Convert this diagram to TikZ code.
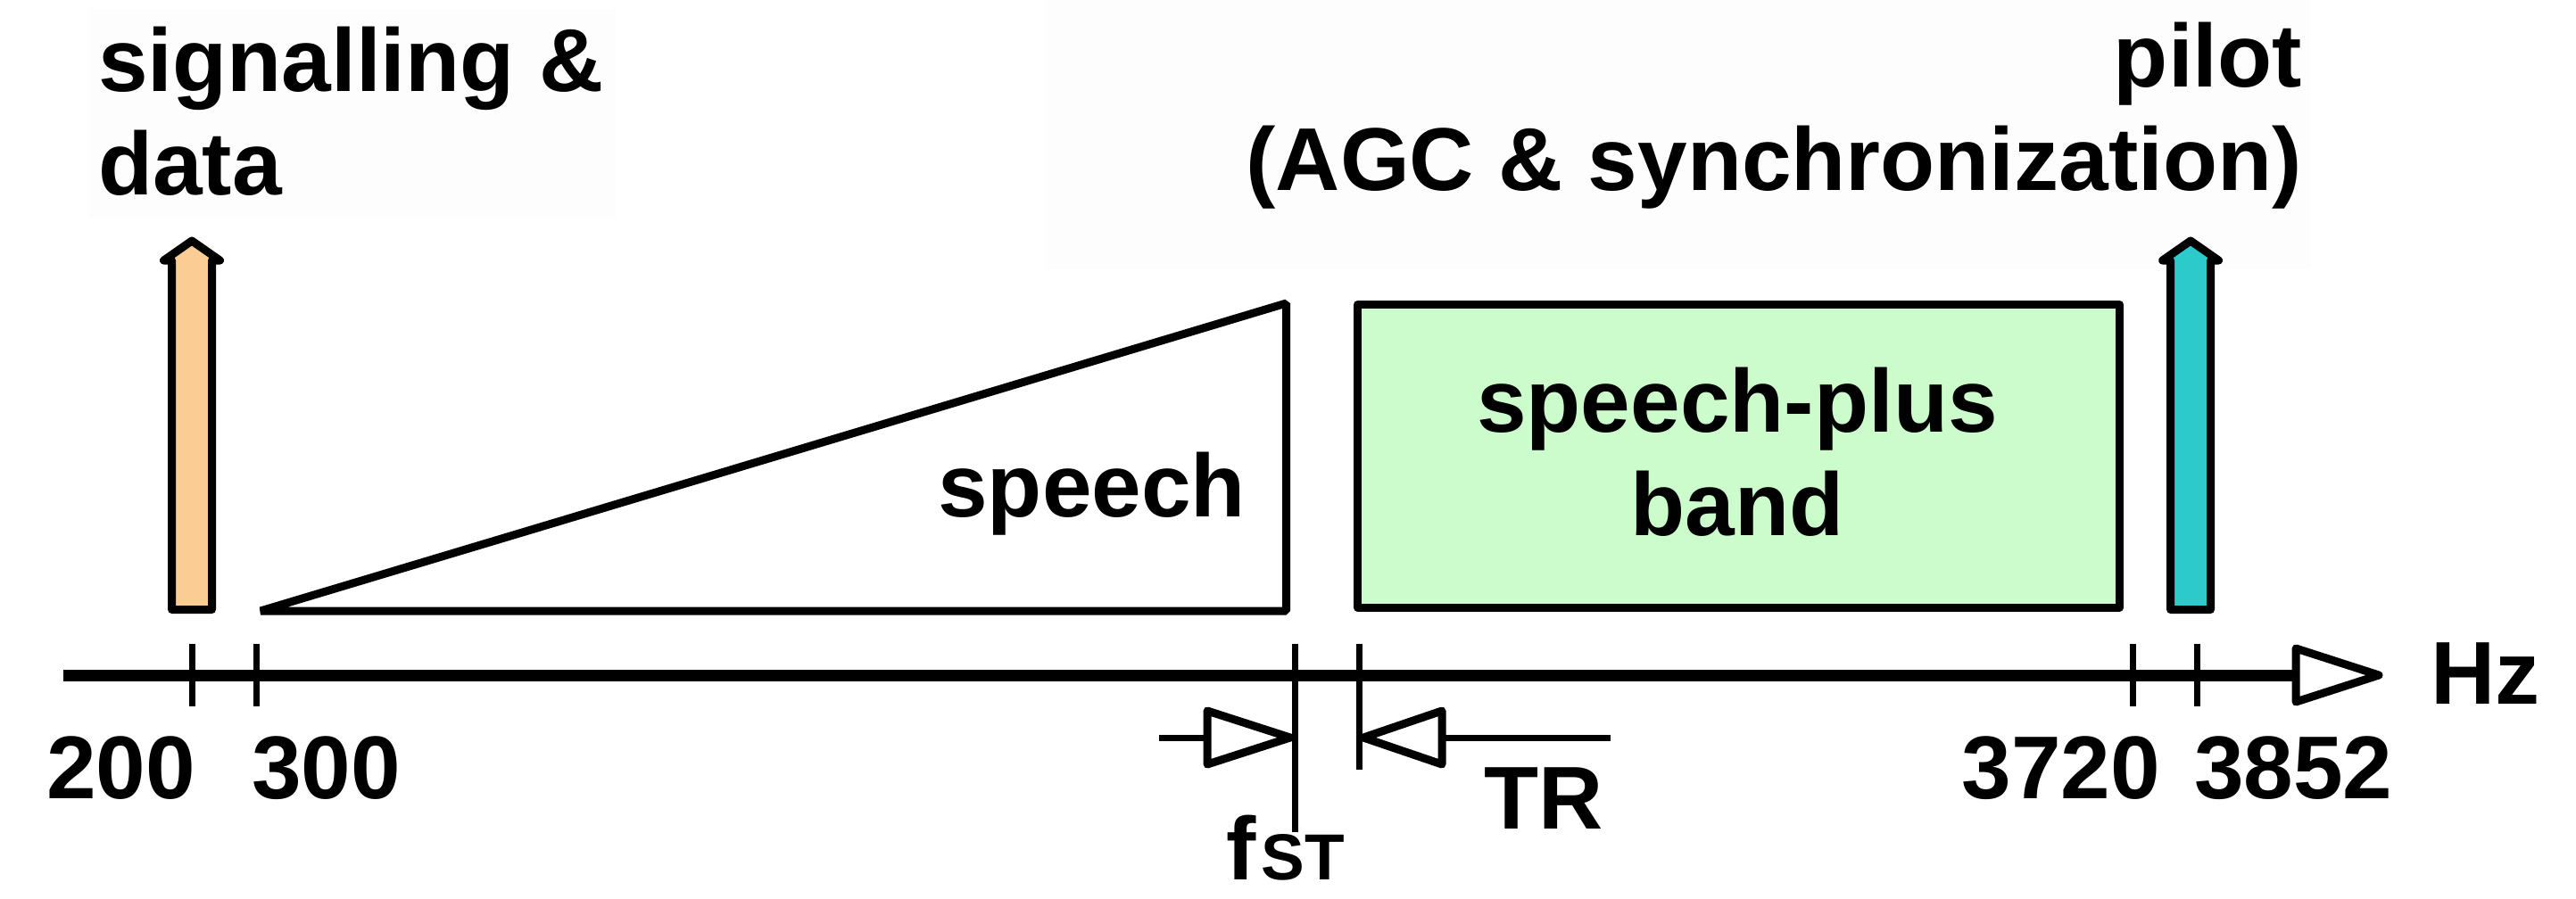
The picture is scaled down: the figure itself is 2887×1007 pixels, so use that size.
\documentclass[tikz,border=0pt]{standalone}
\usepackage{fontspec}
\setmainfont{Liberation Sans}
\usetikzlibrary{calc}
\definecolor{sigorange}{HTML}{FBCD94}
\definecolor{pilotteal}{HTML}{2CCACA}
\definecolor{bandgreen}{HTML}{CCFCCC}
\definecolor{faint}{HTML}{FDFDFD}
\begin{document}
\begin{tikzpicture}[x=0.25pt,y=-0.25pt,
  lbl/.style={font=\fontsize{25}{29}\selectfont\bfseries, inner sep=0pt, outer sep=0pt},
  blk/.style={line width=2.25pt, line join=round},
  thin/.style={line width=1.75pt},
  axisline/.style={line width=3.25pt},
  tipbox/.style={line width=2.25pt, line join=round, fill=white},
]
\useasboundingbox (0,0) rectangle (2887,1007);
% faint backgrounds behind the labels
\fill[faint] (100,10) rectangle (690,245);
\fill[faint] (1172,0) rectangle (2590,302);

% coordinates on the axis
\coordinate (axstart) at (71,757);
\coordinate (axend) at (2573,757);
\coordinate (t200) at (215,757);
\coordinate (t300) at (287,757);
\coordinate (tst) at (1451,757);
\coordinate (ttr) at (1523,757);
\coordinate (t3720) at (2390,757);
\coordinate (t3852) at (2462,757);

% axis and its open arrowhead
\draw[axisline] (axstart) -- (axend);
\draw[tipbox] ($(axend)+(0,-30)$) -- ($(axend)+(93,0)$) -- ($(axend)+(0,30)$) -- cycle;

% ticks
\foreach \t in {t200,t300,t3720,t3852}
  \draw[thin] ($(\t)+(0,-35)$) -- ($(\t)+(0,35)$);
\draw[thin] ($(tst)+(0,-35)$) -- ($(tst)+(0,176)$);
\draw[thin] ($(ttr)+(0,-35)$) -- ($(ttr)+(0,106)$);

% signalling arrow (orange)
\draw[blk, fill=sigorange] (192.5,683.5) -- (192.5,292) -- (183.5,292) -- (215,270)
  -- (246.5,292) -- (237.5,292) -- (237.5,683.5) -- cycle;
% pilot arrow (teal)
\draw[blk, fill=pilotteal] (2432.5,683.5) -- (2432.5,292) -- (2423.5,292) -- (2455,270)
  -- (2486.5,292) -- (2477.5,292) -- (2477.5,683.5) -- cycle;

% speech triangle
\draw[blk, line join=bevel] (292,685) -- (1441.5,685) -- (1441.5,340) -- cycle;
% speech-plus band
\draw[blk, fill=bandgreen] (1521.5,341.5) rectangle (2375.5,681);

% fST marker arrow
\coordinate (stl) at (1299,827);
\coordinate (stb) at (1353,827);
\coordinate (stt) at (1446,827);
\draw[thin] (stl) -- (stb);
\draw[tipbox] ($(stb)+(0,-30)$) -- (stt) -- ($(stb)+(0,30)$) -- cycle;
% TR marker arrow
\coordinate (trr) at (1805,827);
\coordinate (trb) at (1616,827);
\coordinate (trt) at (1528,827);
\draw[thin] (trb) -- (trr);
\draw[tipbox] ($(trb)+(0,-30)$) -- (trt) -- ($(trb)+(0,30)$) -- cycle;

% labels
\node[lbl, anchor=base west, align=left] (sig) at (110,218) {signalling \&\\data};
\node[lbl, anchor=base east, align=right] (pil) at (2580,213) {pilot\\(AGC \& synchronization)};
\node[lbl, anchor=base east] (sp) at (1396,579) {speech};
\node[lbl, anchor=base, align=center] (spb) at (1947,600) {speech-plus\\band};
\node[lbl, anchor=base east] (l200) at (219,895) {200};
\node[lbl, anchor=base west] (l300) at (282,895) {300};
\node[lbl, anchor=base east] (l3720) at (2421,895) {3720};
\node[lbl, anchor=base west] (l3852) at (2459,895) {3852};
\node[lbl, anchor=base west] (hz) at (2724,789) {Hz};
\node[lbl, anchor=base west] (tr) at (1663,929) {TR};
\node[lbl, anchor=base west] (fst) at (1374,986) {f\kern1.5pt{\fontsize{18.25}{20}\selectfont ST}};
\end{tikzpicture}
\end{document}
